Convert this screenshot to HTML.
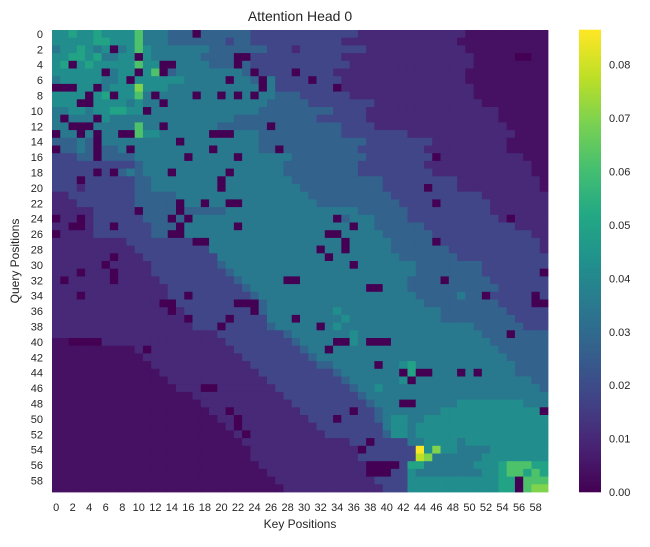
<!DOCTYPE html>
<html><head><meta charset="utf-8"><style>
body{margin:0;background:#fff;font-family:"Liberation Sans",Arial,sans-serif}
svg text{font-family:"Liberation Sans",Arial,sans-serif;fill:#262626}
</style></head><body>
<svg id="chart" width="650" height="542"></svg>
<script>
const rowStrings = [
"667667666685554440444444333333333333322222222222221111111111",
"666667766685554444444344333333333332222222222222211111111111",
"566765605686555555544444443332333333332222222222221111111111",
"667767556606555555444400333333333332222222222222222111110011",
"670676666686600555544404333333333333222222222222222111111111",
"666666056606804555555554033330333322222222222222221111111111",
"566666556066666655555055405333303332222222222222221111111111",
"000660566696665555555555505333333302222222222222222111111111",
"666606706685055550550505055444333333222222222222222111111111",
"666006666565505555555555554444433333333222222222222211111111",
"556656677660555555555555544444444433332222222222222222111111",
"505550655555555555555544444444443333332222222222222222111111",
"550005555585505555554444440444444443333222222222222222211111",
"055050550086655555500055544444444443333333322222222222221111",
"444540555555555055555555544444444444443333333322222222211111",
"044540445055555555505555544044444444433333333222222222211111",
"333440444455555505555505555554444444443333333302222222222111",
"333333333345555555555555555544444444433333333222222222222211",
"333330304545550555555055555544444444433333333322222222222211",
"333033333344555555550555555554444444444433333333322222222221",
"333233333344555555550555555555444444444433333033322222222221",
"223333333344444555555555555555544444444443333333333322222222",
"222333333344444055055005555555554444444444333303333332222222",
"222223333304444044444555555555555555544444433333333332222222",
"022023333334440405555555555555555504555444433333333333202222",
"220023303333444055555505555555555555055444444333333333332222",
"022223333333440055555555555555555005555544444433333333333322",
"222222222333333330055555555555555550555554444403333333333332",
"222222222233333333355555555555550550555554444444333333333332",
"222222202223333333335555555555555055555555444444433333333333",
"222222022222333333334555555555555555055555554444444433333333",
"222022202222333333333455555555555555555555554444444433333330",
"202222202222233333333345555500555555555555544440444443333333",
"222222222222223333333334555555555555550055544444444444333333",
"222022222222223303333333455555555555555555554444454403333303",
"222222222222200333333300045555555555555555555444444444333300",
"222222222222220233333333045555555565555555555554444444433333",
"222222222222222203333033335550555556555555555554444444443333",
"222222222222222223330333334555550565555555555555555444444333",
"222222222222222222223333333345555555655555555555555544404444",
"110000222222222222222333333334555500650005555555555554444444",
"111111111120222222222233333333455055555555555555555555444444",
"111111111112222222222223333333345555555555555555555555544444",
"111111111111222222222222333333334455555055675555555555554444",
"111111111111122222222222233333333345555555070055505055554444",
"111111111111112222222222223333333334555555605555555555555544",
"111111111111111222002222222333333333455655555555555555555554",
"111111111111111112222222222233333333345555555555555555555555",
"111111111111111111222222222223333333334555005555566666666555",
"111111111111111111122022222222333333033455555556666666666660",
"111111111111111111112202222222233303333456655666666666666666",
"111111111111111111111202222222223333333356656666666666666666",
"111111111111111111111120222222222333333346656666666666666666",
"111111111111111111111112222222222222330333355666656666666666",
"111111111111111111111111222222222222203333333696655556666666",
"111111111111111111111111222222222222233333338955555566666666",
"111111111111111111111111122222222222220000377555555666788877",
"111111111111111111111111112222222222220003365555555566788787",
"111111111111111111111111111222222222222333366666666666770888",
"111111111111111111111111111122222222222233366666666666770899"
];
const levelValues = [0,0.004,0.010,0.018,0.027,0.035,0.042,0.050,0.062,0.070];
const peakValue = 0.086;
const colorbarTicks = [0,0.01,0.02,0.03,0.04,0.05,0.06,0.07,0.08];
const vmax = 0.0865;

const data = rowStrings.map(s=>(s+"1".repeat(60)).slice(0,60).split('').map(ch=>levelValues[+ch]));
data[54][44]=peakValue; data[55][44]=0.078;

const V=[[0.267,0.005,0.329],[0.283,0.141,0.458],[0.254,0.265,0.530],[0.207,0.372,0.553],[0.164,0.471,0.558],[0.128,0.567,0.551],[0.135,0.659,0.518],[0.267,0.749,0.441],[0.478,0.821,0.318],[0.741,0.873,0.150],[0.993,0.906,0.144]];
function viridis(t){t=Math.max(0,Math.min(1,t));const p=t*10,i=Math.min(9,Math.floor(p)),f=p-i;
 const c=V[i].map((v,k)=>Math.round(255*(v+(V[i+1][k]-v)*f)));return `rgb(${c[0]},${c[1]},${c[2]})`;}

const svg=document.getElementById('chart'),NS='http://www.w3.org/2000/svg';
function mk(tag,attrs,parent){const e=document.createElementNS(NS,tag);for(const k in attrs)e.setAttribute(k,attrs[k]);(parent||svg).appendChild(e);return e;}
const X0=52,Y0=30,W=496,H=462,N=60,cw=W/N,ch=H/N;
const xCell=c=>X0+c*cw, yCell=r=>Y0+r*ch;
const g=mk('g',{});


for(let r=0;r<N;r++)for(let c=0;c<N;c++){
 const rc=mk('rect',{x:xCell(c).toFixed(2),y:yCell(r).toFixed(2),width:(cw+0.4).toFixed(2),height:(ch+0.4).toFixed(2),fill:viridis(data[r][c]/vmax)},g);
 
 
}
const t=mk('text',{x:X0+W/2,y:21,'text-anchor':'middle','font-size':14});t.textContent='Attention Head 0';


for(let i=0;i<N;i+=2){
 const xt=mk('text',{x:xCell(i)+cw/2,y:511,'text-anchor':'middle','font-size':11});xt.textContent=i;
 
 
 const yt=mk('text',{x:X0-9,y:yCell(i)+ch/2+4,'text-anchor':'end','font-size':11});yt.textContent=i;
 
 
}
const xl=mk('text',{x:X0+W/2,y:528,'text-anchor':'middle','font-size':12});xl.textContent='Key Positions';


const yl=mk('text',{x:19,y:Y0+H/2,'text-anchor':'middle','font-size':12,transform:`rotate(-90 19 ${Y0+H/2})`});yl.textContent='Query Positions';


const CX=579,CW=22,cb=mk('g',{});


const cy=v=>Y0+H-v/vmax*H;
for(let k=0;k<200;k++){const v0=vmax*k/200;mk('rect',{x:CX,y:cy(v0+vmax/200)-0.3,width:CW,height:H/200+0.6,fill:viridis(k/199)},cb);}
colorbarTicks.forEach(v=>{
 const tt=mk('text',{x:CX+CW+8,y:cy(v)+4,'font-size':11});tt.textContent=v.toFixed(2);
 
 
});
</script>
</body></html>
